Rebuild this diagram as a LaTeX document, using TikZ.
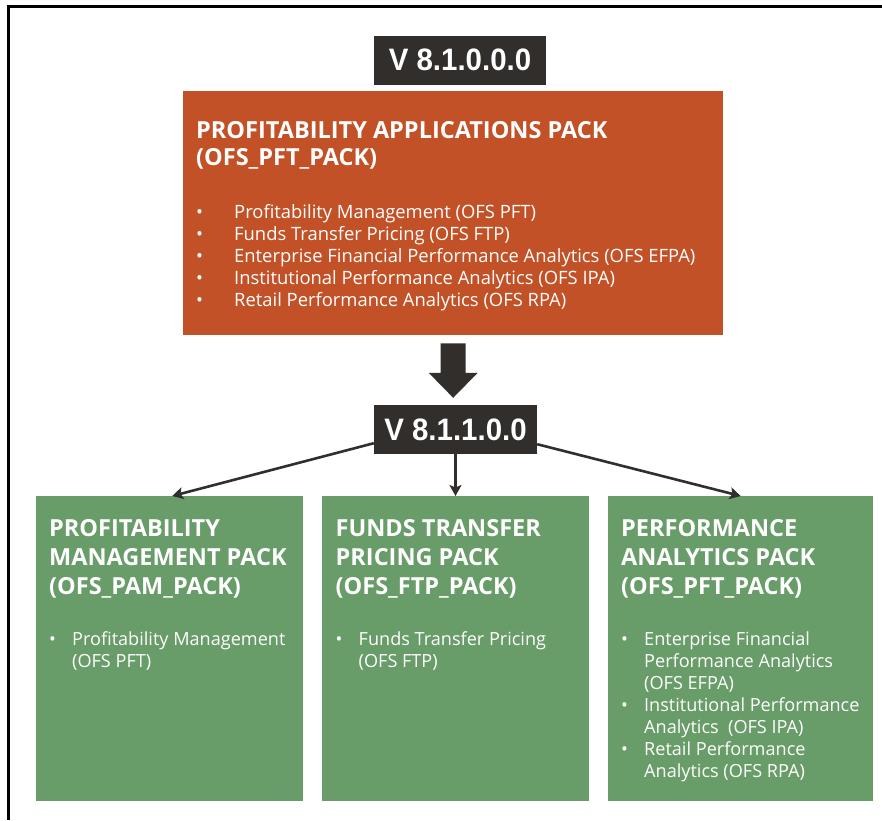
\documentclass[tikz,border=0pt]{standalone}
\usepackage{fontspec}
\setmainfont{Open Sans}
\newfontfamily\verfont[FakeStretch=0.95]{Liberation Sans}
\usetikzlibrary{arrows.meta,calc}
\definecolor{darkbox}{HTML}{322E2B}
\definecolor{orangebox}{HTML}{C35127}
\definecolor{greenbox}{HTML}{689C68}
\tikzset{
  verbox/.style={fill=darkbox, text=white, inner sep=0pt, font=\verfont\bfseries\fontsize{31}{31}\selectfont},
  obox/.style={fill=orangebox, inner sep=0pt, anchor=north west, minimum width=540pt, minimum height=244pt},
  gbox/.style={fill=greenbox, inner sep=0pt, anchor=north west, minimum height=305pt},
  ttl/.style={text=white, inner sep=0pt, anchor=base west, font=\bfseries\fontsize{23.5}{27.5}\selectfont},
  gttl/.style={text=white, inner sep=0pt, anchor=base west, font=\bfseries\fontsize{23.5}{28.7}\selectfont},
  olist/.style={text=white, inner sep=0pt, anchor=base west, font=\fontsize{18.4}{22}\selectfont},
  glist/.style={text=white, inner sep=0pt, anchor=base west, font=\fontsize{18.1}{22}\selectfont},
  conn/.style={draw=darkbox, line width=2.6pt, -{Stealth[length=11pt,width=12pt,inset=2.5pt]}},
  frame/.style={draw=black, line width=3pt}
}
\begin{document}
\begin{tikzpicture}[x=1pt,y=-1pt]
\useasboundingbox (0,0) rectangle (882,820);
% outer frame (top and left edges visible)
\coordinate (fbl) at (8,820);
\coordinate (ftl) at (8,6.3);
\coordinate (ftr) at (882,6.3);
\draw[frame] (fbl) -- (ftl) -- (ftr);

% version boxes
\node[verbox, minimum width=172pt, minimum height=49pt] (v1) at (460,60) {V 8.1.0.0.0};
\node[verbox, minimum width=163pt, minimum height=49pt] (v2) at (455.5,429.5) {V 8.1.1.0.0};

% orange pack
\node[obox] (pft) at (183,91) {};
\node[ttl] (pfttitle) at (196,138.3) {\begin{tabular}[t]{@{}l@{}}PROFITABILITY APPLICATIONS PACK\\(OFS\_PFT\_PACK)\end{tabular}};
\node[olist] (pftlist) at (196,218.3) {\begin{tabular}[t]{@{}p{38pt}@{}l@{}}
\textbullet & Profitability Management (OFS PFT)\\
\textbullet & Funds Transfer Pricing (OFS FTP)\\
\textbullet & Enterprise Financial Performance Analytics (OFS EFPA)\\
\textbullet & Institutional Performance Analytics (OFS IPA)\\
\textbullet & Retail Performance Analytics (OFS RPA)
\end{tabular}};

% green packs
\node[gbox, minimum width=267pt] (g1) at (36,496) {};
\node[gbox, minimum width=267pt] (g2) at (322,496) {};
\node[gbox, minimum width=265pt] (g3) at (608,496) {};

\node[gttl] (g1title) at (49,536.7) {\begin{tabular}[t]{@{}l@{}}PROFITABILITY\\MANAGEMENT PACK\\(OFS\_PAM\_PACK)\end{tabular}};
\node[glist] (g1list) at (49,645.7) {\begin{tabular}[t]{@{}p{23pt}@{}l@{}}
\textbullet & Profitability Management\\
 & (OFS PFT)
\end{tabular}};

\node[gttl] (g2title) at (335.5,536.7) {\begin{tabular}[t]{@{}l@{}}FUNDS TRANSFER\\PRICING PACK\\(OFS\_FTP\_PACK)\end{tabular}};
\node[glist] (g2list) at (335.5,645.7) {\begin{tabular}[t]{@{}p{23pt}@{}l@{}}
\textbullet & Funds Transfer Pricing\\
 & (OFS FTP)
\end{tabular}};

\node[gttl] (g3title) at (621,536.7) {\begin{tabular}[t]{@{}l@{}}PERFORMANCE\\ANALYTICS PACK\\(OFS\_PFT\_PACK)\end{tabular}};
\node[glist] (g3list) at (621,645.7) {\begin{tabular}[t]{@{}p{23pt}@{}l@{}}
\textbullet & Enterprise Financial\\
 & Performance Analytics\\
 & (OFS EFPA)\\
\textbullet & Institutional Performance\\
 & Analytics~~(OFS IPA)\\
\textbullet & Retail Performance\\
 & Analytics (OFS RPA)
\end{tabular}};

% block arrow from the orange pack to V 8.1.1.0.0
\coordinate (tip) at ($(pft.south |- v2.north)+(0,-7)$);
\fill[darkbox] ($(pft.south)+(-12.5,8)$) -- ($(pft.south)+(12.5,8)$)
  -- ($(tip)+(12.5,-25)$) -- ($(tip)+(24.5,-25)$) -- (tip)
  -- ($(tip)+(-24.5,-25)$) -- ($(tip)+(-12.5,-25)$) -- cycle;

% connectors
\draw[conn] ($(v2.south west)+(0,-11)$) -- ([xshift=2.5pt]g1.north);
\draw[conn] (v2.south) -- (v2.south |- g2.north);
\draw[conn] ($(v2.south east)+(0,-10)$) -- (g3.north);
\end{tikzpicture}
\end{document}
